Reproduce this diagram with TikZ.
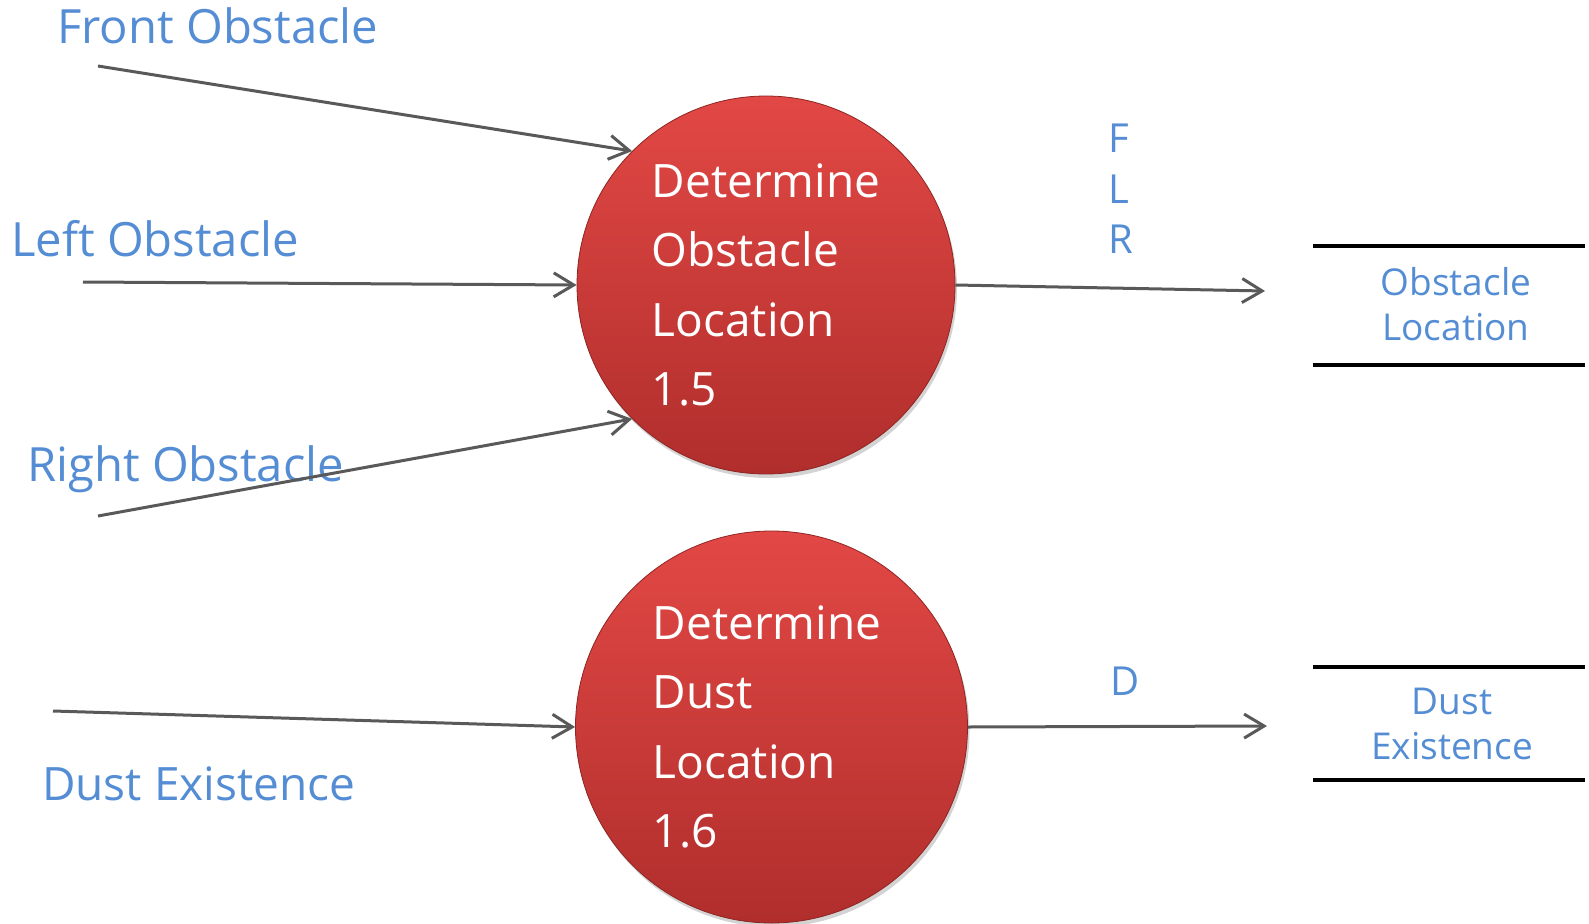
\documentclass[tikz,border=0pt]{standalone}
\usepackage{fontspec}
\setmainfont{Open Sans}
\usetikzlibrary{arrows.meta,shadows}
\definecolor{lblue}{RGB}{84,141,212}
\definecolor{agray}{RGB}{89,89,89}
\definecolor{rtop}{RGB}{226,72,69}
\definecolor{rbot}{RGB}{176,46,44}
\tikzset{
  proc/.style={circle,inner sep=0pt,align=left,text=white,
    top color=rtop,bottom color=rbot,draw=rbot!80!black,line width=0.8pt,
    drop shadow={opacity=0.35,shadow xshift=2pt,shadow yshift=-4pt},
    font=\fontsize{46}{69.5}\selectfont},
  lbl/.style={text=lblue,inner sep=0pt,anchor=base west,font=\fontsize{47.2}{55}\selectfont},
  flow/.style={text=lblue,inner sep=0pt,anchor=base west,font=\fontsize{40}{50}\selectfont},
  storetxt/.style={text=lblue,inner sep=0pt,align=center,font=\fontsize{37}{45}\selectfont},
  store/.style={minimum width=272pt,inner sep=0pt},
  storeline/.style={line width=3.5pt,black},
  arr/.style={draw=agray,line width=3pt,-{Straight Barb[length=20pt,width=24pt,line width=3pt]}},
}
\begin{document}
\begin{tikzpicture}[x=1pt,y=-1pt]
\useasboundingbox (0,0) rectangle (1589,923);
% processes
\node[proc,minimum size=378pt] (p1) at (766,285) {Determine\\Obstacle\\Location\\1.5};
\node[proc,minimum size=392pt] (p2) at (771.5,727) {Determine\hspace*{9pt}\\Dust\\Location\\1.6};
% input labels
\node[lbl] (tf) at (57,44) {Front Obstacle};
\node[lbl] (tl) at (11,256) {Left Obstacle};
\node[lbl] (tr) at (27,481) {Right Obstacle};
\node[lbl,font=\fontsize{46}{55}\selectfont] (td) at (42,800) {Dust Existence};
% flow labels
\node[flow] (fF) at (1108,152) {F};
\node[flow] (fL) at (1108,203) {L};
\node[flow] (fR) at (1108,253) {R};
\node[flow] (fD) at (1110,695) {D};
% stores
\node[store,minimum height=119pt] (s1) at (1449,305.5) {};
\draw[storeline] (s1.north west) -- (s1.north east);
\draw[storeline] (s1.south west) -- (s1.south east);
\node[storetxt] (s1t) at (1456,304) {Obstacle\\Location};
\node[store,minimum height=113pt] (s2) at (1449,723.5) {};
\draw[storeline] (s2.north west) -- (s2.north east);
\draw[storeline] (s2.south west) -- (s2.south east);
\node[storetxt] (s2t) at (1452,724) {Dust\\Existence};
% connector ends
\coordinate (cF) at (98,66);
\coordinate (cL) at (83,282);
\coordinate (cR) at (98,516);
\coordinate (cD) at (53,711);
\coordinate (o1) at (1265,291);
\coordinate (o2) at (1267,726);
% arrows
\draw[arr] (cF) -- (p1.135);
\draw[arr] (cL) -- (p1.west);
\draw[arr] (cR) -- (p1.225);
\draw[arr] (cD) -- (p2.west);
\draw[arr] (p1.east) -- (o1);
\draw[arr] (p2.east) -- (o2);
\end{tikzpicture}
\end{document}
